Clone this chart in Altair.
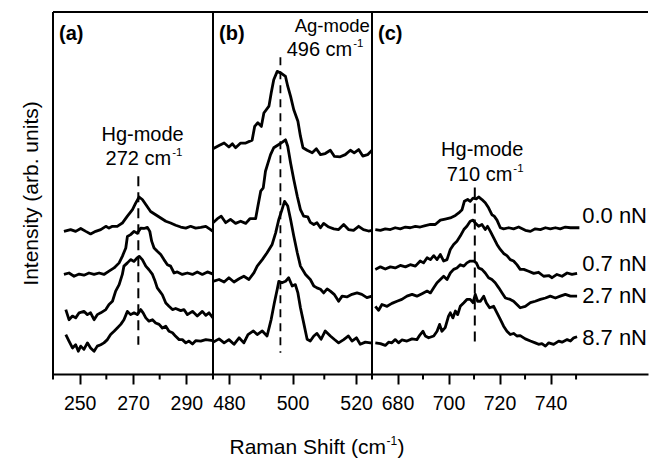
import altair as alt
import pandas as pd

FONT = "Liberation Sans"
H = 362

loads = ["0.0 nN", "0.7 nN", "2.7 nN", "8.7 nN"]

# ---------------- panel (a): Hg-mode, 272 cm-1 ----------------
a_x_00 = [244.1, 246.6, 248.5, 250.4, 252.3, 254.1, 256.0, 257.9, 259.8, 261.0, 262.3, 264.1, 266.0,
          267.9, 269.8, 271.0, 272.3, 273.5, 274.8, 276.6, 278.5, 280.4, 282.3, 284.1, 286.0, 287.9,
          289.8, 291.6, 293.5, 295.4, 297.3, 299.1, 300.0]
a_y_00 = [39.4, 39.9, 39.4, 40.2, 39.4, 38.7, 39.4, 39.9, 40.8, 40.3, 40.8, 40.8, 41.7,
          43.6, 45.4, 47.2, 48.9, 48.2, 46.8, 44.9, 44.0, 43.1, 42.2, 41.7, 41.1, 40.6,
          40.3, 40.8, 40.3, 40.5, 40.8, 39.9, 39.4]
a_x_07 = [244.1, 246.0, 247.9, 249.8, 251.6, 253.5, 255.4, 257.3, 259.1, 261.0, 262.9, 264.8, 266.0,
          267.3, 267.9, 269.1, 270.4, 271.6, 272.9, 274.1, 275.4, 276.3, 277.0, 277.9, 279.1, 280.4,
          281.6, 282.9, 284.1, 285.4, 286.6, 288.5, 290.4, 292.3, 294.1, 296.0, 297.9, 300.0]
a_y_07 = [27.5, 27.9, 27.0, 27.6, 27.3, 27.9, 27.5, 27.9, 27.5, 28.4, 29.3, 30.7, 32.5,
          34.8, 38.0, 38.5, 39.4, 38.9, 40.3, 40.2, 40.5, 39.4, 36.7, 34.8, 33.9, 33.0,
          31.6, 30.2, 29.8, 27.9, 28.2, 27.5, 27.9, 27.5, 28.2, 27.5, 28.2, 27.6]
a_x_27 = [244.8, 246.0, 247.3, 248.5, 249.8, 251.6, 252.9, 254.1, 255.4, 256.6, 257.9, 259.8, 261.0,
          262.3, 263.5, 264.8, 266.0, 266.6, 267.9, 269.1, 270.4, 271.6, 272.3, 273.5, 274.8, 276.0,
          277.3, 278.3, 279.1, 280.0, 281.0, 282.3, 283.5, 284.8, 286.0, 287.9, 289.1, 290.4, 292.3,
          294.1, 296.0, 297.3, 298.5, 300.0]
a_y_27 = [17.8, 15.0, 16.0, 15.5, 16.9, 17.3, 16.4, 16.9, 15.0, 16.4, 16.9, 17.8, 19.2,
          20.1, 22.9, 24.7, 27.5, 29.8, 30.7, 31.6, 31.1, 32.1, 32.5, 31.6, 29.8, 28.8,
          27.5, 25.6, 23.8, 22.9, 21.9, 19.6, 18.7, 17.8, 18.1, 17.5, 17.8, 16.4, 17.3,
          16.0, 17.3, 16.2, 16.9, 15.5]
a_x_87 = [244.8, 246.0, 247.3, 248.5, 249.5, 250.4, 251.6, 252.9, 254.1, 255.4, 256.6, 257.9, 259.1,
          260.4, 261.6, 262.9, 264.1, 265.4, 266.6, 267.9, 269.1, 270.4, 271.6, 272.9, 273.8, 274.8,
          276.0, 277.3, 278.5, 279.8, 281.0, 282.3, 283.5, 284.8, 286.0, 287.3, 288.5, 289.8, 291.0,
          292.3, 293.5, 295.4, 297.3, 300.0]
a_y_87 = [10.9, 9.1, 7.2, 8.1, 6.3, 7.7, 6.8, 8.6, 7.2, 6.3, 7.7, 8.1, 8.6,
          9.5, 10.9, 11.8, 12.7, 13.7, 15.0, 17.3, 16.4, 16.9, 16.4, 17.8, 16.9, 15.5,
          14.6, 15.0, 14.1, 13.7, 12.7, 13.2, 11.8, 11.4, 10.4, 9.5, 9.5, 8.6, 9.1,
          8.3, 9.2, 9.1, 9.5, 9.2]

# ---------------- panel (b): Ag-mode, 496 cm-1 ----------------
b_x_00 = [475.0, 476.9, 478.5, 480.0, 481.1, 482.1, 483.7, 485.3, 487.3, 488.1, 489.1, 490.2, 491.0,
          492.6, 493.3, 494.1, 495.2, 496.4, 497.8, 498.5, 499.4, 500.4, 501.7, 502.5, 503.3, 504.6,
          506.2, 507.5, 508.8, 510.3, 511.9, 513.2, 515.0, 516.6, 518.2, 519.4, 520.8, 522.1, 523.6,
          525.0]
b_y_00 = [62.2, 63.1, 63.8, 62.7, 63.6, 62.5, 63.8, 63.8, 64.6, 68.4, 69.4, 68.4, 72.1,
          74.0, 77.6, 81.3, 83.6, 83.1, 82.2, 79.5, 76.7, 73.0, 69.8, 65.7, 62.5, 61.8,
          61.1, 62.2, 60.6, 60.9, 61.8, 60.1, 60.0, 60.6, 61.8, 61.1, 62.0, 60.2, 60.6,
          61.8]
b_x_07 = [475.0, 476.4, 477.6, 479.0, 480.5, 482.1, 483.7, 485.3, 486.6, 488.4, 489.1, 490.0, 490.8,
          491.5, 492.3, 493.1, 494.1, 495.7, 496.7, 497.8, 498.5, 499.4, 500.4, 501.5, 502.5, 503.5,
          504.8, 505.6, 506.7, 507.7, 508.8, 509.8, 511.4, 513.0, 514.5, 516.1, 517.6, 519.2, 520.8,
          522.3, 523.9, 525.0]
b_y_07 = [41.8, 42.9, 43.6, 41.8, 42.7, 41.6, 42.2, 41.6, 42.9, 42.9, 46.3, 50.5, 51.4,
          56.0, 58.3, 60.6, 62.5, 63.4, 64.0, 64.7, 62.9, 58.3, 53.7, 49.1, 45.4, 43.6,
          43.4, 41.9, 41.3, 41.8, 40.4, 41.6, 40.6, 40.1, 39.9, 41.3, 39.9, 39.7, 40.8,
          39.9, 39.5, 39.7]
b_x_27 = [475.0, 476.9, 478.5, 480.0, 481.6, 483.2, 484.7, 486.3, 487.9, 488.9, 490.5, 492.0, 493.6,
          494.7, 495.7, 496.7, 497.5, 498.5, 499.4, 500.4, 501.5, 502.5, 504.1, 505.6, 506.7, 507.7,
          508.8, 509.8, 510.9, 511.9, 513.1, 514.5, 515.6, 517.1, 518.7, 520.3, 521.8, 523.4, 525.0]
b_y_27 = [25.6, 26.1, 25.4, 26.6, 25.4, 26.3, 27.0, 26.1, 28.0, 29.8, 31.6, 33.5, 35.8,
          39.0, 42.7, 45.4, 47.7, 46.4, 42.7, 38.1, 33.5, 29.8, 27.5, 26.1, 24.3, 23.8,
          23.4, 22.4, 23.5, 22.9, 22.0, 20.1, 21.5, 21.3, 22.0, 22.4, 22.0, 21.1, 21.5]
b_x_87 = [475.0, 476.9, 478.5, 480.0, 481.6, 483.2, 484.7, 486.0, 487.7, 488.9, 490.5, 492.0, 493.3,
          494.3, 495.2, 495.7, 496.7, 497.8, 498.8, 499.9, 500.9, 501.7, 502.5, 503.5, 504.6, 505.6,
          506.7, 507.7, 509.0, 510.3, 511.9, 513.1, 514.5, 516.1, 517.6, 518.7, 520.1, 521.3, 522.9,
          525.0]
b_y_87 = [8.8, 9.7, 8.6, 9.5, 8.2, 10.0, 8.6, 10.9, 11.9, 10.9, 11.9, 10.5, 15.1,
          19.7, 23.4, 25.6, 25.2, 25.6, 26.6, 24.3, 24.7, 22.4, 18.3, 14.2, 9.6, 9.1,
          10.5, 11.2, 9.6, 11.9, 10.5, 9.6, 8.6, 9.5, 10.5, 9.1, 10.0, 8.2, 8.8,
          8.5]

# ---------------- panel (c): Hg-mode, 710 cm-1 ----------------
c_x_00 = [671.3, 673.3, 675.2, 677.2, 679.1, 681.1, 683.1, 685.0, 687.0, 688.9, 690.9, 692.9, 694.8,
          696.8, 698.7, 700.7, 702.7, 704.0, 705.3, 706.2, 707.5, 708.5, 709.6, 710.9, 711.8, 713.1,
          714.4, 715.7, 717.0, 717.9, 719.0, 720.3, 721.6, 723.6, 725.5, 727.5, 728.1, 730.1, 732.1,
          734.0, 736.0, 738.0, 739.9, 741.9, 743.8, 745.8, 747.8, 749.7, 751.3]
c_y_00 = [39.9, 39.7, 40.1, 39.9, 40.4, 40.1, 40.6, 40.4, 40.8, 40.6, 41.0, 41.3, 41.3,
          42.5, 42.8, 43.1, 43.8, 44.5, 45.4, 47.7, 48.2, 47.7, 48.6, 48.4, 48.9, 48.2,
          47.3, 45.9, 44.0, 43.6, 42.5, 40.4, 40.1, 40.4, 40.1, 40.6, 40.4, 39.7, 39.4,
          40.1, 39.9, 40.4, 40.1, 40.4, 40.1, 40.6, 40.4, 40.4, 40.4]
c_x_07 = [671.3, 673.3, 675.2, 677.2, 679.1, 681.1, 683.1, 685.0, 687.0, 688.9, 690.2, 691.6, 692.9,
          694.2, 695.5, 696.8, 698.1, 699.4, 700.7, 702.0, 703.3, 704.6, 706.0, 707.2, 708.5, 709.6,
          710.5, 711.8, 713.1, 714.4, 715.3, 716.4, 717.7, 719.0, 720.3, 721.6, 722.9, 724.2, 725.5,
          726.8, 728.1, 729.5, 731.4, 733.4, 735.3, 737.3, 739.3, 740.6, 742.5, 744.5, 746.5, 748.4,
          750.4]
c_y_07 = [28.9, 29.6, 29.0, 29.6, 29.3, 30.0, 29.6, 30.2, 29.8, 31.2, 30.7, 32.1, 31.6,
          32.7, 31.6, 33.0, 31.2, 31.6, 34.4, 35.8, 36.7, 38.1, 39.9, 40.8, 42.2, 42.5,
          41.7, 40.8, 41.3, 39.9, 40.8, 39.4, 37.6, 35.8, 34.4, 33.3, 32.7, 31.6, 31.2,
          30.2, 28.9, 28.9, 28.4, 27.8, 28.1, 27.0, 27.2, 26.6, 27.5, 27.0, 27.9, 27.5,
          27.8]
c_x_27 = [671.3, 672.6, 673.9, 675.9, 677.8, 679.8, 681.7, 683.7, 685.7, 687.6, 689.6, 691.6, 692.9,
          694.2, 695.5, 696.8, 698.1, 699.4, 700.7, 702.0, 703.3, 704.6, 706.0, 707.2, 708.5, 709.9,
          710.9, 711.8, 713.1, 714.4, 715.7, 717.0, 718.3, 719.7, 721.0, 722.3, 724.2, 725.5, 726.8,
          728.1, 730.1, 732.1, 734.0, 736.0, 738.0, 739.9, 741.9, 743.8, 745.8, 747.8, 750.4]
c_y_27 = [18.7, 17.6, 19.2, 18.7, 19.5, 20.1, 20.6, 21.5, 22.0, 21.5, 22.2, 22.9, 22.4,
          23.8, 25.2, 26.1, 27.0, 26.1, 27.9, 28.9, 29.3, 30.2, 29.8, 30.7, 31.2, 31.2,
          30.7, 29.3, 28.9, 27.9, 26.6, 26.1, 25.2, 23.8, 22.4, 21.0, 20.6, 20.1, 19.2,
          18.3, 18.7, 19.7, 20.1, 20.6, 21.0, 21.5, 21.0, 21.5, 22.0, 21.5, 21.5]
c_x_87 = [671.3, 673.3, 675.2, 676.5, 677.8, 679.1, 680.4, 681.7, 683.7, 685.7, 687.6, 688.9, 690.0,
          690.9, 692.2, 694.2, 695.5, 696.5, 697.4, 698.7, 700.0, 700.7, 701.7, 702.7, 703.6, 704.6,
          706.0, 707.2, 708.5, 709.6, 710.5, 711.4, 712.5, 713.8, 714.8, 716.1, 717.7, 719.0, 720.3,
          721.6, 722.9, 724.2, 725.5, 726.8, 728.1, 730.1, 732.1, 734.0, 735.3, 736.6, 738.0, 739.3,
          741.2, 743.2, 744.5, 746.5, 747.8, 749.1, 750.4]
c_y_87 = [8.6, 8.4, 7.9, 8.8, 8.6, 9.5, 8.6, 9.4, 9.1, 9.7, 9.5, 10.9, 11.8,
          10.5, 10.0, 10.5, 11.8, 13.7, 11.8, 12.8, 16.0, 16.9, 15.5, 17.4, 16.4, 18.7,
          19.7, 20.6, 20.6, 19.7, 22.0, 20.1, 20.1, 21.5, 19.7, 18.3, 18.7, 16.9, 15.1,
          13.2, 11.8, 10.9, 11.2, 10.5, 10.6, 9.7, 9.1, 8.6, 8.2, 8.4, 7.7, 8.6,
          8.2, 9.1, 8.8, 9.5, 9.1, 10.0, 10.3]

# load labels at the right end of panel (c)
label_y = [41.7, 28.4, 19.7, 8.1]


def curves_df(xs, ys):
    rows = []
    for load, xv, yv in zip(loads, xs, ys):
        for xi, yi in zip(xv, yv):
            rows.append({"load": load, "x": xi, "y": yi})
    return pd.DataFrame(rows)


df_a = curves_df([a_x_00, a_x_07, a_x_27, a_x_87], [a_y_00, a_y_07, a_y_27, a_y_87])
df_b = curves_df([b_x_00, b_x_07, b_x_27, b_x_87], [b_y_00, b_y_07, b_y_27, b_y_87])
df_c = curves_df([c_x_00, c_x_07, c_x_27, c_x_87], [c_y_00, c_y_07, c_y_27, c_y_87])

YS = alt.Scale(domain=[0, 100], nice=False, zero=False)


def panel(df, domain, width, majors, minors, dash, dash_style, ann, sup, letter, yaxis, extra=()):
    xs = alt.Scale(domain=domain, nice=False, zero=False)
    xaxis = alt.Axis(values=majors, format="d", tickSize=10, tickWidth=2, tickColor="black",
                     domainWidth=2, domainColor="black", labelFont=FONT, labelFontSize=19.5,
                     labelColor="black", labelPadding=10, title=None, grid=False,
                     labelFlush=False, labelOverlap=False)

    def X(f):
        return alt.X(f, scale=xs, axis=xaxis, title=None)

    def Y(f):
        return alt.Y(f, scale=YS, axis=yaxis, title=None if yaxis is None else "Intensity (arb. units)")

    lines = alt.Chart(df).mark_line(color="black", strokeWidth=2.8, strokeJoin="round").encode(
        x=X("x:Q"), y=Y("y:Q"), detail="load:N",
    )
    minor = alt.Chart(pd.DataFrame({"x": minors})).mark_rule(color="black", strokeWidth=2).encode(
        x=X("x:Q"), y=alt.value(H), y2=alt.value(H + 5.5),
    )
    dashdf = pd.DataFrame({"x": [dash[0]], "y": [dash[1]], "y2": [dash[2]]})
    dashed = alt.Chart(dashdf).mark_rule(color="black", strokeWidth=dash_style[0],
                                         strokeDash=dash_style[1]).encode(
        x=X("x:Q"), y=Y("y:Q"), y2="y2:Q",
    )
    anndf = pd.DataFrame(ann, columns=["t", "x", "y", "align", "size"])
    layers = [lines, minor, dashed]
    for _, r in anndf.iterrows():
        sub = pd.DataFrame([{"t": r["t"], "x": r["x"], "y": r["y"]}])
        layers.append(alt.Chart(sub).mark_text(align=r["align"], baseline="alphabetic", font=FONT,
                                               fontSize=float(r["size"]), color="black").encode(
            x=X("x:Q"), y=Y("y:Q"), text="t:N",
        ))
    supdf = pd.DataFrame([sup], columns=["t", "x", "y"])
    layers.append(alt.Chart(supdf).mark_text(align="left", baseline="alphabetic", font=FONT,
                                             fontSize=11.5, color="black", dx=1).encode(
        x=X("x:Q"), y=Y("y:Q"), text="t:N",
    ))
    layers.append(alt.Chart(pd.DataFrame({"t": [letter]})).mark_text(
        align="left", baseline="alphabetic", font=FONT, fontSize=20, fontWeight="bold",
        color="black").encode(x=alt.value(6), y=alt.value(28), text="t:N"))
    one = pd.DataFrame({"k": [0]})
    layers.append(alt.Chart(one).mark_rule(color="black", strokeWidth=2).encode(
        x=alt.value(0), y=alt.value(0), y2=alt.value(H)))
    layers.append(alt.Chart(one).mark_rule(color="black", strokeWidth=2).encode(
        x=alt.value(0), x2=alt.value(width), y=alt.value(0)))
    for e in extra:
        layers.append(e(X, Y))
    return alt.layer(*layers).properties(width=width, height=H)


def load_labels(X, Y):
    d = pd.DataFrame({"t": loads, "x": [752.4] * 4, "y": label_y})
    return alt.Chart(d).mark_text(align="left", baseline="alphabetic", font=FONT, fontSize=22,
                                  color="black").encode(
        x=X("x:Q"), y=Y("y:Q"), text="t:N",
    )


def xtitle_main(X, Y):
    return alt.Chart(pd.DataFrame({"t": ["Raman Shift (cm"]})).mark_text(
        align="right", baseline="alphabetic", font=FONT, fontSize=21, color="black").encode(
        x=alt.value(172.9), y=alt.value(441.7), text="t:N")


def xtitle_sup(X, Y):
    return alt.Chart(pd.DataFrame({"t": ["-1"]})).mark_text(
        align="left", baseline="alphabetic", font=FONT, fontSize=12, color="black").encode(
        x=alt.value(173.5), y=alt.value(432.5), text="t:N")


def xtitle_end(X, Y):
    return alt.Chart(pd.DataFrame({"t": [")"]})).mark_text(
        align="left", baseline="alphabetic", font=FONT, fontSize=21, color="black").encode(
        x=alt.value(184.5), y=alt.value(441.7), text="t:N")


yaxis_a = alt.Axis(title="Intensity (arb. units)", labels=False, ticks=False, domain=False,
                   grid=False, titleFont=FONT, titleFontSize=21, titleFontWeight="normal",
                   titleColor="black", titlePadding=12)

pa = panel(df_a, [240, 300], 160, [250, 270, 290], [240, 260, 280, 300],
           (272, 54.6, 8.1), (2, [10, 6]),
           [("Hg-mode", 273.6, 64.5, "center", 20), ("272 cm", 284.3, 57.8, "right", 20)],
           ("-1", 284.3, 60.3), "(a)", yaxis_a)
pb = panel(df_b, [475, 525], 159, [480, 500, 520], [490, 510],
           (496.2, 87.5, 5.9), (1.8, [8, 6]),
           [("Ag-mode", 524.3, 94.6, "right", 18.5), ("496 cm", 518.8, 87.9, "right", 20)],
           ("-1", 518.8, 90.4), "(b)", None,
           extra=(xtitle_main, xtitle_sup, xtitle_end))
pc = panel(df_c, [670, 778.2], 276, [680, 700, 720, 740], [670, 690, 710, 730, 750],
           (710.3, 51.5, 8.1), (2, [10, 6]),
           [("Hg-mode", 713.2, 60.3, "center", 20), ("710 cm", 725.0, 53.2, "right", 20)],
           ("-1", 725.0, 55.8), "(c)", None,
           extra=(load_labels,))

chart = alt.hconcat(pa, pb, pc, spacing=0, bounds="flush").properties(
    padding={"left": 20, "top": 11, "right": 0, "bottom": 0},
    background="white",
).configure_view(stroke=None)

chart.save("out.html", embed_options={"renderer": "svg", "actions": False})
